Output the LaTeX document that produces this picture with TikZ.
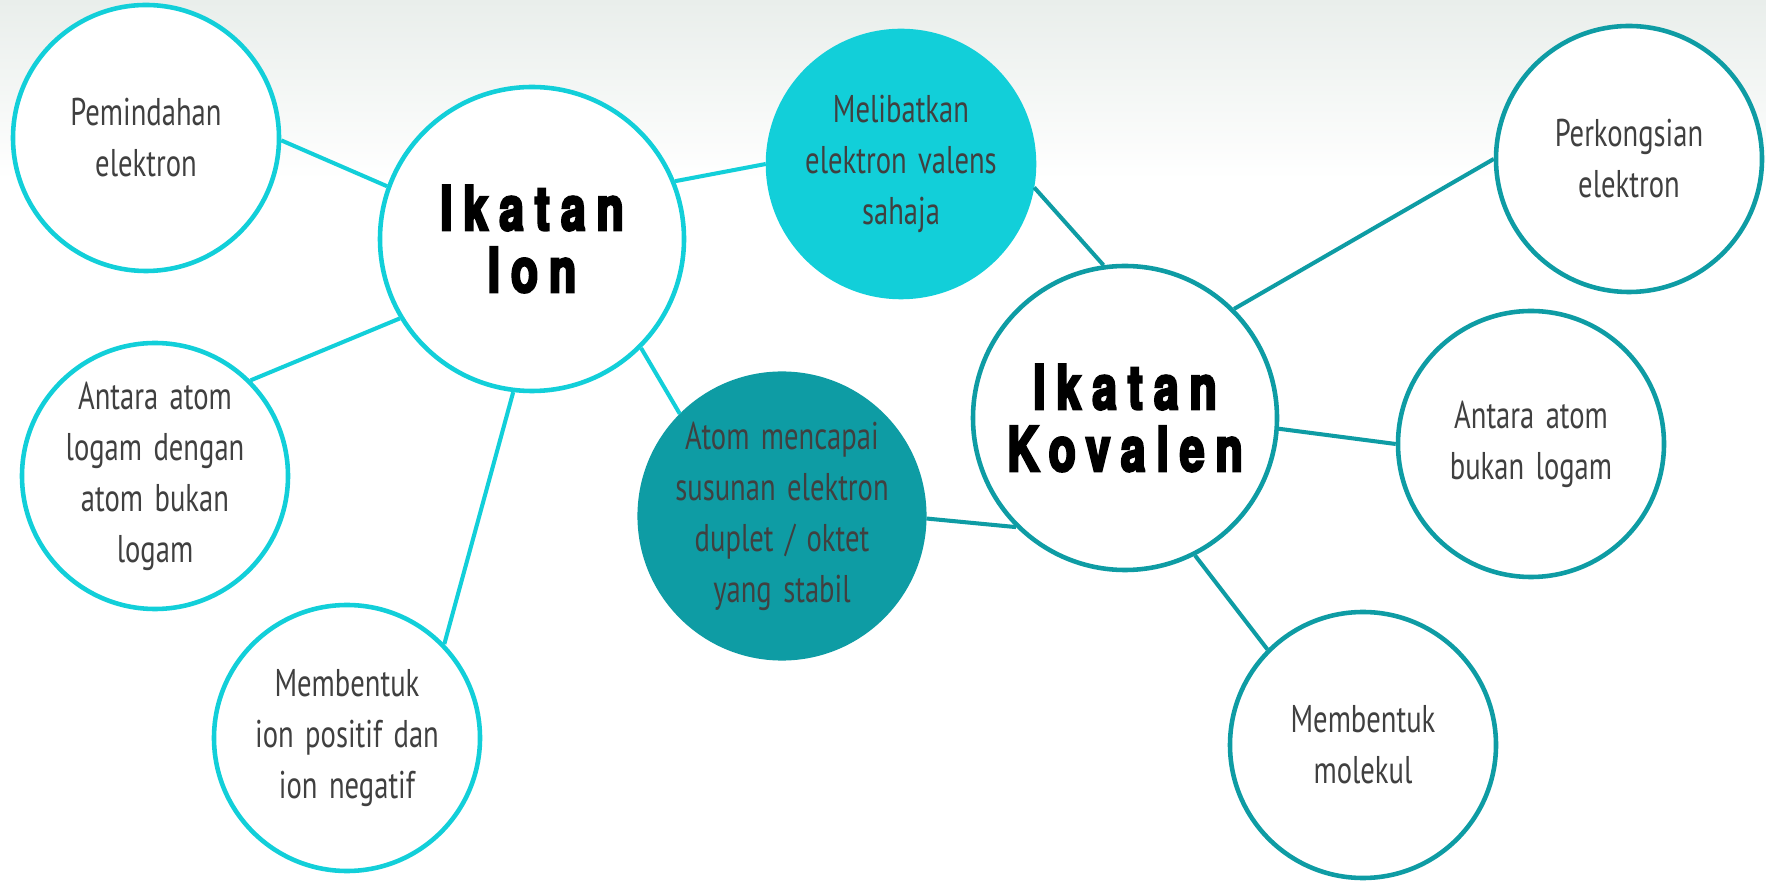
\documentclass[tikz,border=0pt]{standalone}
\usepackage{fontspec}
\setmainfont{PT Sans}[FakeStretch=0.74,WordSpace=1.5]
\newfontfamily\ttlfont{TeX Gyre Heros}[FakeStretch=0.72,LetterSpace=18,FakeBold=4]
\usetikzlibrary{positioning}
\definecolor{ionC}{RGB}{ 18,207,217}
\definecolor{kovC}{RGB}{ 14,156,164}
\definecolor{txtC}{RGB}{ 64, 64, 64}
\definecolor{bgTop}{RGB}{233,238,235}

\begin{document}
\begin{tikzpicture}[
  v/.style={circle, draw=#1, line width=1.3pt, fill=white, minimum size=2.66cm,
            inner sep=0pt, align=center, text=txtC,
            font=\fontsize{11}{14.5}\selectfont},
  hub/.style={v=#1, minimum size=3.04cm, text=black,
              font=\ttlfont\bfseries\fontsize{17.5}{17.6}\selectfont},
  e/.style={draw=#1, line width=1.15pt},
]

% background
\fill[white] (0,0) rectangle (17.66,8.8);
\shade[top color=bgTop, bottom color=white] (0,7.0) rectangle (17.66,8.8);
\useasboundingbox (0,0) rectangle (17.66,8.8);

% ============ ionic side ============
\node[hub=ionC] (ion) at (5.32,6.41) {Ikatan\\Ion};
\node[v=ionC] (pem) at (1.46,7.42) {Pemindahan\\elektron};
\node[v=ionC] (lgm) at (1.55,4.04) {Antara atom\\logam dengan\\atom bukan\\logam};
\node[v=ionC] (ipn) at (3.47,1.42) {Membentuk\\ion positif dan\\ion negatif};

% ============ shared ============
\node[v=ionC, fill=ionC] (val) at (9.01,7.16) {Melibatkan\\elektron valens\\sahaja};
\node[v=kovC, fill=kovC] (okt) at (7.82,3.64) {Atom mencapai\\susunan elektron\\duplet / oktet\\yang stabil};

% ============ covalent side ============
\node[hub=kovC] (kov) at (11.25,4.62) {Ikatan\\Kovalen};
\node[v=kovC] (kng) at (16.29,7.21) {Perkongsian\\elektron};
\node[v=kovC] (bkn) at (15.31,4.36) {Antara atom\\bukan logam};
\node[v=kovC] (mol) at (13.63,1.35) {Membentuk\\molekul};

\draw[e=ionC] (pem.-1)--(ion.160) (lgm.45)--(ion.211) (ipn.44)--(ion.263);
\draw[e=ionC] (ion.22)--(val.180) (ion.-45)--(okt.135);
\draw[e=kovC] (val.-10)--(kov.98) (okt.-1)--(kov.225);
\draw[e=kovC] (kov.45)--(kng.180) (kov.-4)--(bkn.180) (kov.-63)--(mol.135);

\end{tikzpicture}
\end{document}
